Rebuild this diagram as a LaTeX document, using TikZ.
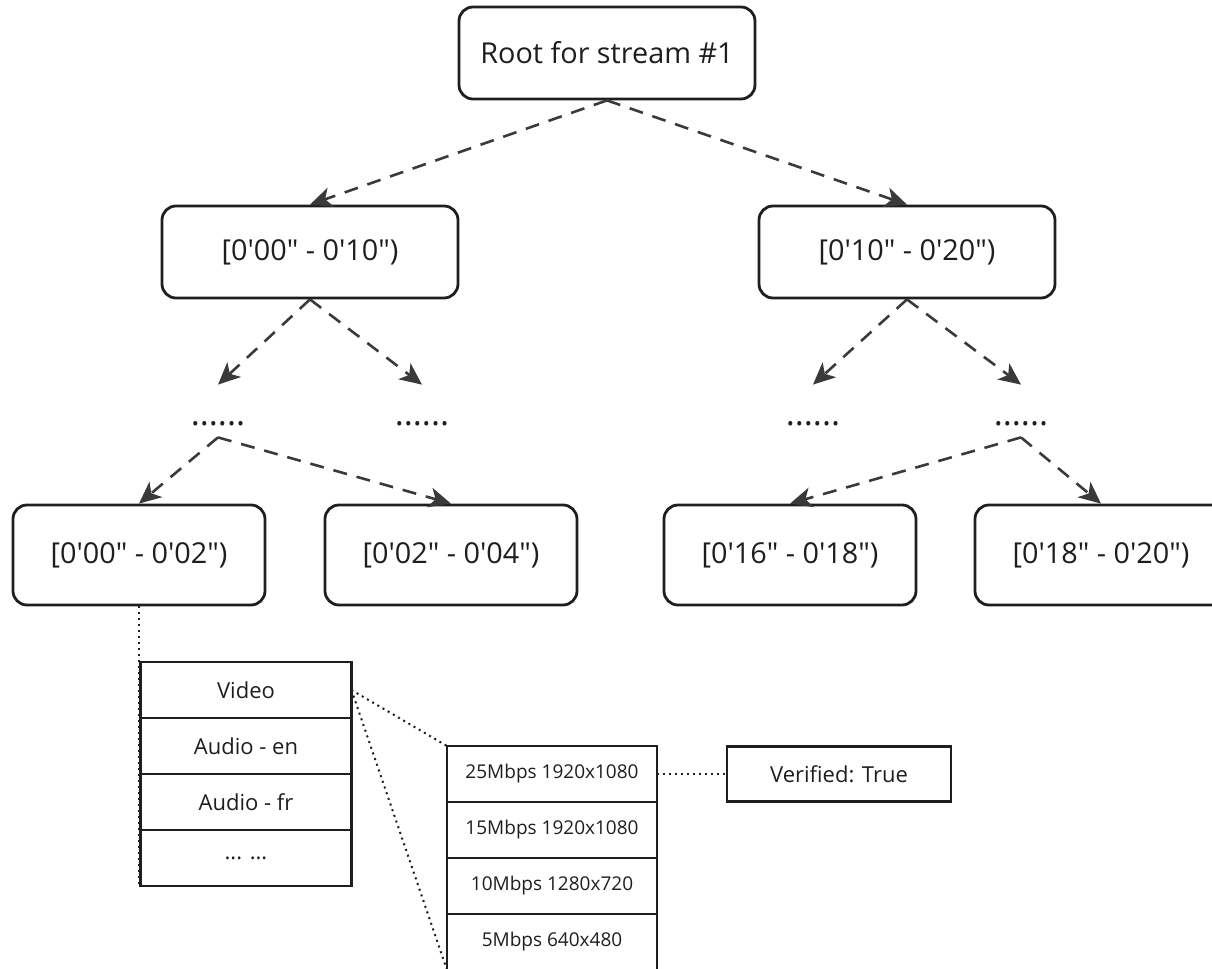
\documentclass[tikz,border=0pt]{standalone}
\usepackage{fontspec}
\setmainfont{Open Sans}[Ligatures=TeXOff]
\usepackage{tikz}
\usetikzlibrary{arrows.meta}
\usetikzlibrary{chains}
\usetikzlibrary{positioning}
\definecolor{ink}{HTML}{1E1E1E}
\definecolor{edge}{HTML}{3A3A3A}

\begin{document}
\begin{tikzpicture}[
	x=0.5pt, y=-0.5pt,
	start chain=1 going below,
	start chain=2 going below,
	node distance=0pt,
	seg/.style={
		rectangle,
		rounded corners=7pt,
		draw=ink,
		line width=1.4pt,
		text=ink,
		text centered,
		minimum width=148pt,
		minimum height=46pt,
		font=\fontsize{14.4}{16}\selectfont
		},
	leaf/.style={
		minimum width=126pt,
		minimum height=50pt
	},
	gap/.style={
		anchor=base,
		text=ink,
		inner xsep=0pt,
		inner ysep=2pt,
		text height=18pt,
		text depth=4pt,
		font=\fontsize{17}{19}\selectfont
	},
	track/.style={
		on chain=1,
		rectangle,
		draw=ink,
		line width=1.3pt,
		outer sep=0pt,
		text=ink,
		minimum width=105.5pt,
		minimum height=28pt,
		font=\fontsize{11}{13}\selectfont
	},
	rate/.style={
		on chain=2,
		rectangle,
		draw=ink,
		line width=1.3pt,
		outer sep=0pt,
		text=ink,
		minimum width=105pt,
		minimum height=28pt,
		font=\fontsize{9.5}{11}\selectfont
	},
	link/.style={
		draw=edge,
		line width=1.3pt,
		dash pattern=on 7pt off 5pt,
		-{Stealth[length=11pt,width=10pt,inset=3pt]}
	},
	peek/.style={
		draw=ink,
		line width=1pt,
		dash pattern=on 1pt off 2pt
	}
]

\useasboundingbox (0,0) rectangle (1212,969);

% Segments
\node [seg] (root) at (607,53) {Root for stream \#1};
\node [seg] (first) at (310,252) {[0'00" - 0'10")};
\node [seg] (second) at (907,252) {[0'10" - 0'20")};
\node [gap] (d1) at (218,425) {......};
\node [gap] (d2) at (422,425) {......};
\node [gap] (d3) at (813,425) {......};
\node [gap] (d4) at (1021,425) {......};
\node [seg, leaf] (ll) at (139,555) {[0'00" - 0'02")};
\node [seg, leaf] (lr) at (451,555) {[0'02" - 0'04")};
\node [seg, leaf] (rl) at (790,555) {[0'16" - 0'18")};
\node [seg, leaf] (rr) at (1101,555) {[0'18" - 0'20")};

% Tracks
\node [track] (video) at (246,690) {Video};
\node [track] (audioen) {Audio - en};
\node [track] (audiofr) {Audio - fr};
\node [track] (more) {... ...};

% Renditions
\node [rate] (r25) at (552,774) {25Mbps 1920x1080};
\node [rate] (r15) {15Mbps 1920x1080};
\node [rate] (r10) {10Mbps 1280x720};
\node [rate] (r5) {5Mbps 640x480};
\node [rectangle, draw=ink, line width=1.3pt, text=ink, minimum width=112pt, minimum height=27.5pt, font=\fontsize{11}{13}\selectfont] (verified) at (839,774) {Verified: True};

% Links
\draw [link] (root.south) -- (first.north);
\draw [link] (root.south) -- (second.north);
\draw [link] (first.south) -- (d1.north);
\draw [link] (first.south) -- (d2.north);
\draw [link] (second.south) -- (d3.north);
\draw [link] (second.south) -- (d4.north);
\draw [link] (d1.south) -- (ll.north);
\draw [link] (d1.south) -- (lr.north);
\draw [link] (d4.south) -- (rl.north);
\draw [link] (d4.south) -- (rr.north);

% Zoom lines
\draw [peek] (ll.south) -- (ll.south |- more.south);
\draw [peek] (video.east) -- (r25.north west);
\draw [peek] (video.east) -- (r5.south west);
\draw [peek] (r25.east) -- (verified.west);
\end{tikzpicture}
\end{document}
